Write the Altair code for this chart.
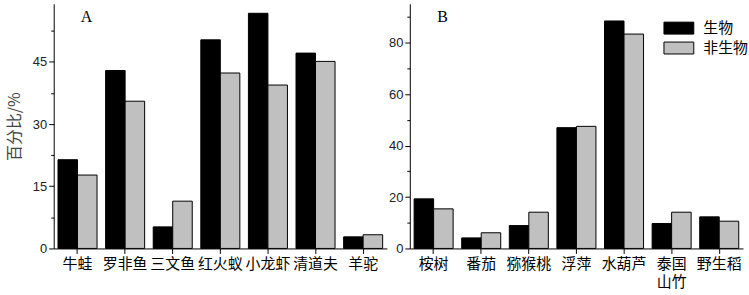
import altair as alt
import pandas as pd

series = ["生物", "非生物"]
colors = ["#000000", "#c0c0c0"]

cats_a = ["牛蛙", "罗非鱼", "三文鱼", "红火蚁", "小龙虾", "清道夫", "羊驼"]
bio_a = [21.4, 42.9, 5.2, 50.3, 56.7, 47.1, 2.8]
abio_a = [17.7, 35.5, 11.4, 42.3, 39.4, 45.1, 3.3]

cats_b = ["桉树", "番茄", "猕猴桃", "浮萍", "水葫芦", "泰国山竹", "野生稻"]
bio_b = [19.3, 4.1, 8.9, 47.0, 88.5, 9.7, 12.3]
abio_b = [15.4, 6.1, 14.1, 47.5, 83.4, 14.1, 10.6]

ticks_a = [0, 7.5, 15, 22.5, 30, 37.5, 45, 52.5]
ticks_b = [0, 10, 20, 30, 40, 50, 60, 70, 80, 90]


def frame(cats, bio, abio):
    rows = []
    for c, b, a in zip(cats, bio, abio):
        rows.append({"cat": c, "series": series[0], "value": b})
        rows.append({"cat": c, "series": series[1], "value": a})
    return pd.DataFrame(rows)


CJK = "Noto Sans CJK SC"
W, H = 335, 246


def panel(df, cats, domain_max, ticks, major, letter, title, show_legend):
    color_legend = None
    if show_legend:
        color_legend = alt.Legend(
            title=None, orient="none", legendX=263, legendY=17,
            symbolType="M-2.5,-1L2.5,-1L2.5,1L-2.5,1Z", symbolSize=144,
            symbolStrokeColor="#000000", symbolStrokeWidth=1,
            labelFont=CJK, labelFontSize=15, labelColor="#000000",
            rowPadding=3, labelOffset=17, padding=0,
        )
    bars = alt.Chart(df).mark_bar(stroke="#000000", strokeWidth=1).encode(
        x=alt.X("cat:N", sort=cats, title=None,
                scale=alt.Scale(paddingInner=0.18, paddingOuter=0.09),
                axis=alt.Axis(
                    labelAngle=0, labelFont=CJK, labelFontSize=15,
                    labelColor="#000000", labelPadding=3, tickSize=5,
                    tickColor="#000000", domainColor="#000000",
                    labelLineHeight=18,
                    labelExpr="datum.label == '泰国山竹' ? ['泰国', '山竹'] : datum.label",
                )),
        xOffset=alt.XOffset("series:N", sort=series),
        y=alt.Y("value:Q", title=title,
                scale=alt.Scale(domain=[0, domain_max], nice=False, zero=True),
                axis=alt.Axis(
                    values=ticks, grid=False,
                    labelExpr=f"datum.value % {major} == 0 ? datum.label : ''",
                    tickSize={"condition": {"test": f"datum.value % {major} != 0", "value": 3}, "value": 5},
                    labelFont="Liberation Sans", labelFontSize=13, labelColor="#222222",
                    tickColor="#000000", domainColor="#000000", labelPadding=2,
                    titleFont=CJK, titleFontSize=16, titleFontWeight="normal",
                    titleColor="#444444", titlePadding=10,
                )),
        fill=alt.Fill("series:N", sort=series,
                      scale=alt.Scale(domain=series, range=colors),
                      legend=color_legend),
    )
    label = alt.Chart(pd.DataFrame({"t": [letter]})).mark_text(
        font="Liberation Serif", fontSize=16, align="center", baseline="middle",
        color="#000000",
    ).encode(text="t:N", x=alt.value(33), y=alt.value(13))
    return alt.layer(bars, label).properties(width=W, height=H)


pa = panel(frame(cats_a, bio_a, abio_a), cats_a, 59, ticks_a, 15, "A", "百分比/%", False)
pb = panel(frame(cats_b, bio_b, abio_b), cats_b, 95.2, ticks_b, 20, "B", None, True)

chart = alt.hconcat(pa, pb, spacing=1).resolve_scale(
    fill="independent", y="independent", x="independent"
).resolve_legend(fill="independent").configure_view(stroke=None).properties(
    padding={"left": 6, "top": 3, "right": 0, "bottom": 0},
    background="white",
)

chart.save("out.html", embed_options={"renderer": "svg", "actions": False})
